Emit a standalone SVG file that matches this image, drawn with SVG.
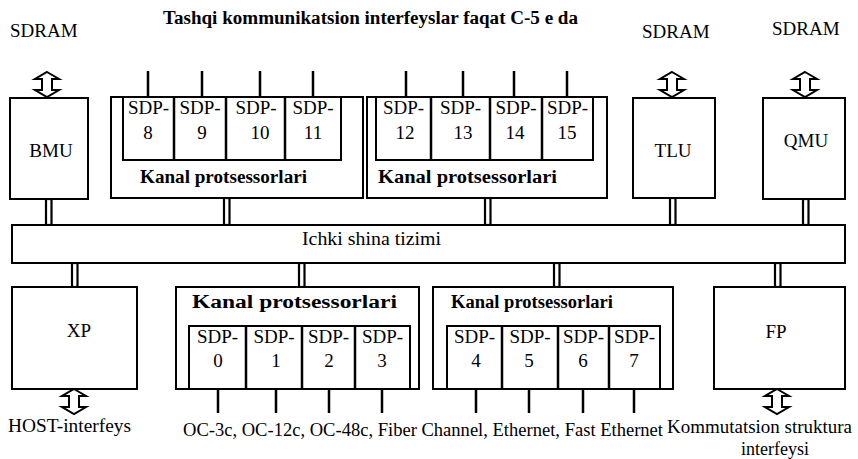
<svg xmlns="http://www.w3.org/2000/svg" width="858" height="459" viewBox="0 0 858 459">
<defs>
<style>
text{font-family:"Liberation Serif",Tinos,"Times New Roman","DejaVu Serif",serif;font-size:18px;fill:#000}
.s{font-size:19px}
.b{font-weight:bold}
.m{text-anchor:middle}
.box{fill:#fff;stroke:#000;stroke-width:2}
.ln{stroke:#000;stroke-width:2.5;fill:none}
.dbl{fill:#fff;stroke:#000;stroke-width:2.2}
.arr{fill:#fff;stroke:#000;stroke-width:2;stroke-linejoin:miter}
</style>
<path id="dar" d="M0,0 L12,7 L5,7 L5,18 L12,18 L0,25 L-12,18 L-5,18 L-5,7 L-12,7 Z"/>
</defs>
<rect width="858" height="459" fill="#fff"/>

<text x="163" y="24" class="b" textLength="415" lengthAdjust="spacingAndGlyphs">Tashqi kommunikatsion interfeyslar faqat C-5 e da</text>
<text x="10" y="37" class="s">SDRAM</text>
<text x="642" y="38" class="s">SDRAM</text>
<text x="772" y="35" class="s">SDRAM</text>

<g id="connectors">
<use href="#dar" x="47" y="72" class="arr"/>
<use href="#dar" x="672" y="72" class="arr"/>
<use href="#dar" x="805" y="72" class="arr"/>
<use href="#dar" x="74" y="389" class="arr"/>
<use href="#dar" x="777" y="389" class="arr"/>
<rect x="46" y="199" width="5.5" height="26" class="dbl"/>
<rect x="224" y="198" width="5.5" height="27" class="dbl"/>
<rect x="485" y="198" width="5.5" height="27" class="dbl"/>
<rect x="670" y="198" width="5.5" height="27" class="dbl"/>
<rect x="803" y="199" width="5.5" height="26" class="dbl"/>
<rect x="72" y="263" width="5.5" height="24" class="dbl"/>
<rect x="299" y="263" width="5.5" height="24" class="dbl"/>
<rect x="554" y="263" width="5.5" height="24" class="dbl"/>
<rect x="775" y="263" width="5.5" height="24" class="dbl"/>
<path class="ln" d="M148,71V97M202,71V97M260,71V97M313,71V97M406,71V97M463,71V97M514,71V97M567,71V97"/>
<path class="ln" d="M218,389V413M276,389V413M329,389V413M382,389V413M476,389V413M529,389V413M583,389V413M634,389V413"/>
</g>

<g id="bmu">
<rect x="10" y="98" width="78" height="101" class="box"/>
<text x="51" y="157" class="m s">BMU</text>
</g>

<g id="kanal-top-1">
<rect x="111" y="97" width="252" height="101" class="box"/>
<rect x="123" y="97" width="218" height="63" class="box"/>
<path class="ln" d="M174,97V160M226,97V160M285,97V160" stroke-width="2"/>
<text x="148.5" y="114" class="m s">SDP-</text>
<text x="200" y="114" class="m s">SDP-</text>
<text x="256" y="114" class="m s">SDP-</text>
<text x="313" y="114" class="m s">SDP-</text>
<text x="148" y="139" class="m s">8</text>
<text x="202" y="139" class="m s">9</text>
<text x="260" y="139" class="m s">10</text>
<text x="313" y="139" class="m s">11</text>
<text x="140" y="183" class="b" textLength="167" lengthAdjust="spacingAndGlyphs">Kanal protsessorlari</text>
</g>

<g id="kanal-top-2">
<rect x="367" y="97" width="240" height="101" class="box"/>
<rect x="376" y="97" width="217" height="63" class="box"/>
<path class="ln" d="M431,97V160M490,97V160M542,97V160" stroke-width="2"/>
<text x="403.5" y="114" class="m s">SDP-</text>
<text x="460.5" y="114" class="m s">SDP-</text>
<text x="516" y="114" class="m s">SDP-</text>
<text x="567.5" y="114" class="m s">SDP-</text>
<text x="405" y="139" class="m s">12</text>
<text x="463" y="139" class="m s">13</text>
<text x="515" y="139" class="m s">14</text>
<text x="567" y="139" class="m s">15</text>
<text x="378" y="183" class="b" textLength="179" lengthAdjust="spacingAndGlyphs">Kanal protsessorlari</text>
</g>

<g id="tlu">
<rect x="633" y="98" width="82" height="100" class="box"/>
<text x="673" y="157" class="m s">TLU</text>
</g>

<g id="qmu">
<rect x="763" y="98" width="82" height="101" class="box"/>
<text x="806" y="147" class="m s">QMU</text>
</g>

<g id="bus">
<rect x="12" y="225" width="833" height="38" class="box"/>
<text x="302" y="245" textLength="139" lengthAdjust="spacingAndGlyphs">Ichki shina tizimi</text>
</g>

<g id="xp">
<rect x="12" y="287" width="125" height="102" class="box"/>
<text x="79" y="337" class="m s">XP</text>
</g>

<g id="kanal-bottom-1">
<rect x="176" y="287" width="243" height="102" class="box"/>
<rect x="189" y="326" width="221" height="63" class="box"/>
<path class="ln" d="M246,326V389M302,326V389M355,326V389" stroke-width="2"/>
<text x="217.5" y="343" class="m s">SDP-</text>
<text x="274" y="343" class="m s">SDP-</text>
<text x="328.5" y="343" class="m s">SDP-</text>
<text x="382.5" y="343" class="m s">SDP-</text>
<text x="218" y="367" class="m s">0</text>
<text x="276" y="367" class="m s">1</text>
<text x="329" y="367" class="m s">2</text>
<text x="382" y="367" class="m s">3</text>
<text x="192" y="308" class="b" textLength="205" lengthAdjust="spacingAndGlyphs">Kanal protsessorlari</text>
</g>

<g id="kanal-bottom-2">
<rect x="433" y="287" width="240" height="102" class="box"/>
<rect x="447" y="326" width="213" height="63" class="box"/>
<path class="ln" d="M502,326V389M558,326V389M609,326V389" stroke-width="2"/>
<text x="474.5" y="343" class="m s">SDP-</text>
<text x="530" y="343" class="m s">SDP-</text>
<text x="583.5" y="343" class="m s">SDP-</text>
<text x="634.5" y="343" class="m s">SDP-</text>
<text x="476" y="367" class="m s">4</text>
<text x="529" y="367" class="m s">5</text>
<text x="583" y="367" class="m s">6</text>
<text x="634" y="367" class="m s">7</text>
<text x="451" y="308" class="b" textLength="162" lengthAdjust="spacingAndGlyphs">Kanal protsessorlari</text>
</g>

<g id="fp">
<rect x="714" y="287" width="131" height="102" class="box"/>
<text x="776" y="338" class="m s">FP</text>
</g>

<text x="8" y="432" textLength="123" lengthAdjust="spacingAndGlyphs">HOST-interfeys</text>
<text x="183" y="436" textLength="480" lengthAdjust="spacingAndGlyphs">OC-3c, OC-12c, OC-48c, Fiber Channel, Ethernet, Fast Ethernet</text>
<text x="667" y="433" textLength="185" lengthAdjust="spacingAndGlyphs">Kommutatsion struktura</text>
<text x="775" y="455" class="m">interfeysi</text>
</svg>
